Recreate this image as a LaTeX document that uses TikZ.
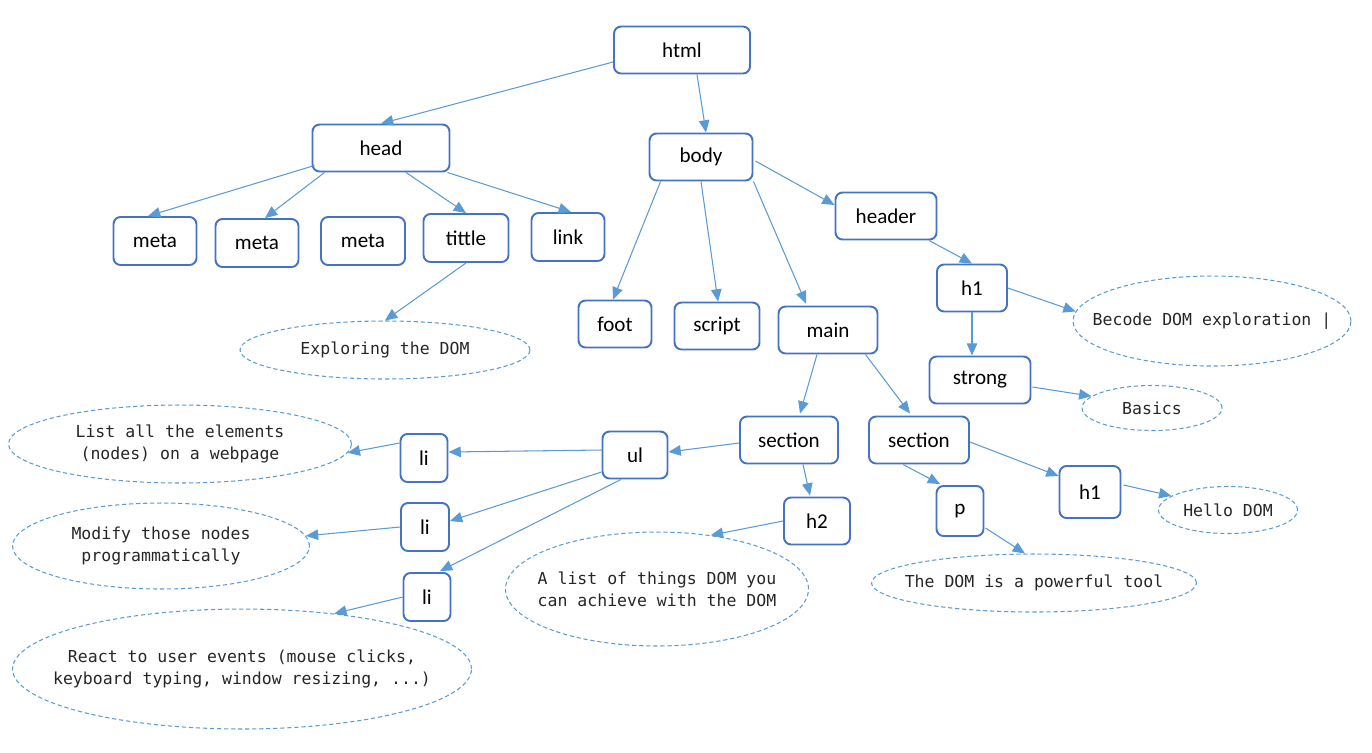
\documentclass[tikz,border=0pt]{standalone}
\usepackage{fontspec}
\setmainfont{Carlito}
\newfontfamily\codefont{DejaVu Sans Mono}
\usetikzlibrary{shapes.geometric, arrows.meta, calc}
\definecolor{boxblue}{HTML}{4472C4}
\definecolor{lineblue}{HTML}{5B9BD5}

\begin{document}
\begin{tikzpicture}[x=0.02cm, y=-0.02cm,
    tag/.style={draw=boxblue, line width=1.1pt, rounded corners=4pt, fill=white, minimum height=0.94cm, font=\fontsize{12}{14}\selectfont},
    note/.style={draw=lineblue, ellipse, dash pattern=on 2.4pt off 1.6pt, line width=0.6pt, inner xsep=-1.5cm, inner ysep=0pt, align=center, text=black!85, font=\codefont\fontsize{9.4}{12.4}\selectfont},
    arr/.style={draw=lineblue, line width=0.6pt, -{Triangle[length=7pt, width=6pt]}} ]
        \useasboundingbox (0,0) rectangle (1372,752);
        % tags
        \node[tag, minimum width=2.72cm] (html) at (682,50) {html};
        \node[tag, minimum width=2.74cm] (head) at (381,148) {head};
        \node[tag, minimum width=2.06cm] (body) at (701,157) {body};
        \node[tag, minimum width=1.66cm, minimum height=0.96cm] (meta1) at (155,241) {meta};
        \node[tag, minimum width=1.66cm, minimum height=0.96cm] (meta2) at (257,243) {meta};
        \node[tag, minimum width=1.68cm, minimum height=0.96cm] (meta3) at (363,241) {meta};
        \node[tag, minimum width=1.70cm, minimum height=0.96cm] (tittle) at (466,238) {tittle};
        \node[tag, minimum width=1.46cm, minimum height=0.96cm] (link) at (568,237) {link};
        \node[tag, minimum width=2.02cm] (header) at (886,216) {header};
        \node[tag, minimum width=1.40cm] (h1) at (972,288) {h1};
        \node[tag, minimum width=2.02cm] (strong) at (980,380) {strong};
        \node[tag, minimum width=1.46cm] (foot) at (615,324) {foot};
        \node[tag, minimum width=1.70cm] (script) at (717,326) {script};
        \node[tag, minimum width=1.98cm] (main) at (828,330) {main};
        \node[tag, minimum width=1.96cm] (sec1) at (789,440) {section};
        \node[tag, minimum width=2.00cm] (sec2) at (919,440) {section};
        \node[tag, minimum width=1.30cm] (ul) at (635,455) {ul};
        \node[tag, minimum width=0.94cm, minimum height=0.96cm] (li1) at (424,458) {li};
        \node[tag, minimum width=0.96cm, minimum height=0.96cm] (li2) at (425,527) {li};
        \node[tag, minimum width=0.94cm, minimum height=0.96cm] (li3) at (427,597) {li};
        \node[tag, minimum width=1.32cm] (h2) at (817,521) {h2};
        \node[tag, minimum width=0.94cm, minimum height=1.00cm] (p) at (960,511) {p};
        \node[tag, minimum width=1.22cm, minimum height=1.04cm] (h1b) at (1090,492) {h1};
        % notes
        \node[note, minimum width=5.80cm, minimum height=1.16cm] (explore) at (385,350) {Exploring the DOM};
        \node[note, minimum width=5.56cm, minimum height=1.80cm] (becode) at (1212,321) {Becode DOM exploration |};
        \node[note, minimum width=2.80cm, minimum height=0.90cm] (basics) at (1152,408) {Basics};
        \node[note, minimum width=6.86cm, minimum height=1.56cm] (listall) at (180,444) {List all the elements\\(nodes) on a webpage};
        \node[note, minimum width=5.94cm, minimum height=1.72cm] (modify) at (161,546) {Modify those nodes\\programmatically};
        \node[note, minimum width=9.18cm, minimum height=2.40cm] (react) at (242,669) {React to user events (mouse clicks,\\keyboard typing, window resizing, ...)};
        \node[note, minimum width=6.06cm, minimum height=2.28cm] (things) at (657,589) {A list of things DOM you\\can achieve with the DOM};
        \node[note, minimum width=2.78cm, minimum height=0.94cm] (hello) at (1228,510) {Hello DOM};
        \node[note, minimum width=6.50cm, minimum height=1.16cm] (powerful) at (1034,583) {The DOM is a powerful tool};
        % arrows
        \draw[arr] ($(html.west)+(0,12)$) -- (head.north);
        \draw[arr] ($(html.south)+(15,0)$) -- ($(body.north)+(5,0)$);
        \draw[arr] ($(head.south west)+(3,-7)$) -- ($(meta1.north)+(-7,0)$);
        \draw[arr] ($(head.south west)+(13,0)$) -- ($(meta2.north)+(8,0)$);
        \draw[arr] ($(head.south)+(25,0)$) -- (tittle.north);
        \draw[arr] ($(head.south east)+(-3,0)$) -- ($(link.north)+(3,0)$);
        \draw[arr] (tittle.south) -- (explore.north);
        \draw[arr] ($(body.south west)+(12,0)$) -- ($(foot.north)+(-2,0)$);
        \draw[arr] (body.south) -- ($(script.north)+(1,0)$);
        \draw[arr] (body.south east) -- ($(main.north)+(-22,-2)$);
        \draw[arr] ($(body.east)+(2,4)$) -- ($(header.west)+(0,-11)$);
        \draw[arr] ($(header.south)+(43,0)$) -- (h1.north);
        \draw[arr] (h1.south) -- (h1.south |- strong.north);
        \draw[arr] (h1.east) -- (becode.176);
        \draw[arr] ($(strong.east)+(1,7)$) -- (basics.169);
        \draw[arr] ($(main.south)+(-11,0)$) -- ($(sec1.north)+(11,-2)$);
        \draw[arr] ($(main.south east)+(-13,0)$) -- ($(sec2.north)+(-9,-2)$);
        \draw[arr] ($(sec1.west)+(0,3)$) -- ($(ul.east)+(0,-3)$);
        \draw[arr] ($(sec1.south)+(14,0)$) -- ($(h2.north)+(-7,-1)$);
        \draw[arr] ($(ul.west)+(0,-5)$) -- ($(li1.east)+(0,-6)$);
        \draw[arr] ($(ul.west)+(0,17)$) -- ($(li2.east)+(0,-6)$);
        \draw[arr] ($(ul.south)+(-14,0)$) -- ($(li3.north)+(13,-1)$);
        \draw[arr] ($(li1.west)+(0,-15)$) -- (listall.357);
        \draw[arr] (li2.west) -- (modify.4);
        \draw[arr] (li3.west) -- (react.31);
        \draw[arr] (h2.west) -- (things.45);
        \draw[arr] ($(sec2.south)+(-16,0)$) -- ($(p.north)+(-20,-1)$);
        \draw[arr] ($(sec2.east)+(0,2)$) -- ($(h1b.west)+(0,-16)$);
        \draw[arr] ($(h1b.east)+(2,-7)$) -- (hello.166);
        \draw[arr] ($(p.south east)+(1,-9)$) -- (powerful.107);
    \end{tikzpicture}
\end{document}
